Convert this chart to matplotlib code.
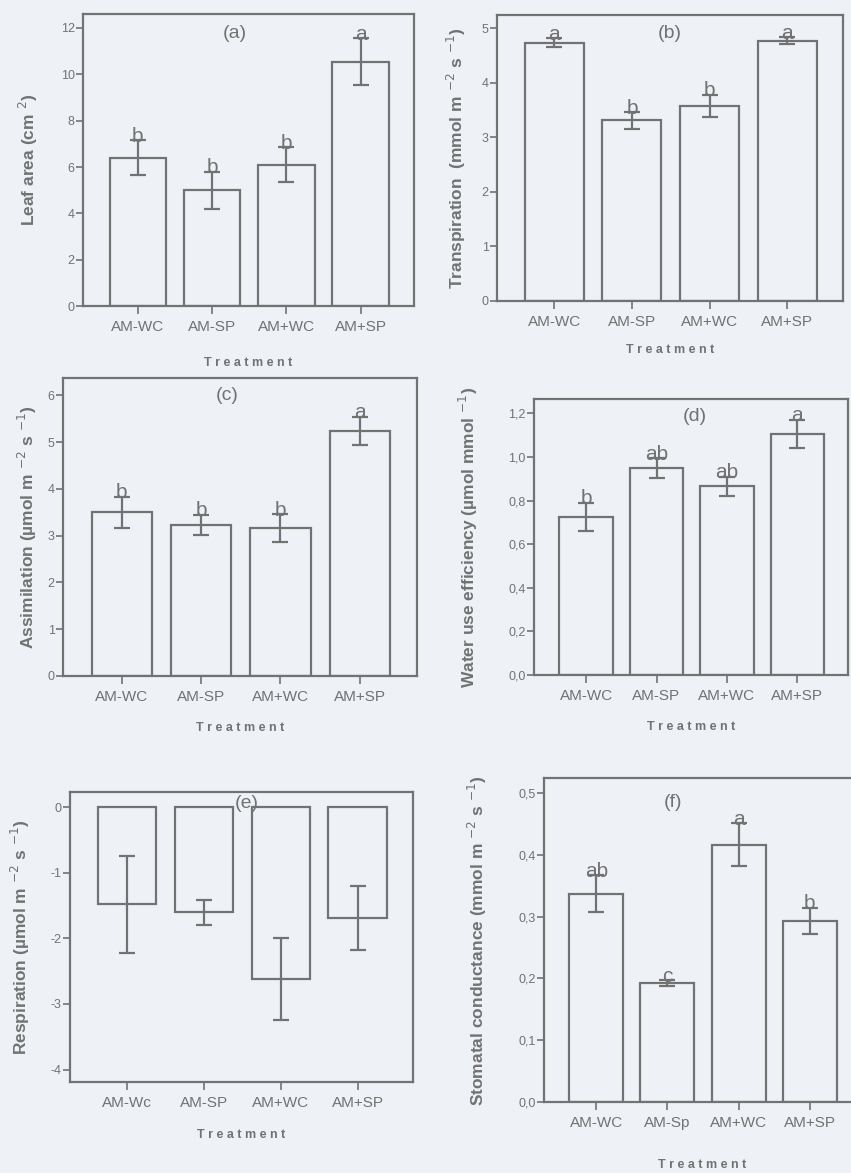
import matplotlib.pyplot as plt
import numpy as np

plt.rcParams['font.family'] = ['Liberation Sans', 'DejaVu Sans']

GREY = '#727272'
BG = '#eef1f6'

# values
leaf_labels = ['AM-WC', 'AM-SP', 'AM+WC', 'AM+SP']
leaf_mean = [6.4, 5.0, 6.1, 10.55]
leaf_err = [0.75, 0.8, 0.75, 1.0]
leaf_letters = ['b', 'b', 'b', 'a']

trans_labels = ['AM-WC', 'AM-SP', 'AM+WC', 'AM+SP']
trans_mean = [4.73, 3.31, 3.58, 4.77]
trans_err = [0.08, 0.15, 0.2, 0.06]
trans_letters = ['a', 'b', 'b', 'a']

assim_labels = ['AM-WC', 'AM-SP', 'AM+WC', 'AM+SP']
assim_mean = [3.5, 3.23, 3.16, 5.24]
assim_err = [0.33, 0.22, 0.3, 0.3]
assim_letters = ['b', 'b', 'b', 'a']

wue_labels = ['AM-WC', 'AM-SP', 'AM+WC', 'AM+SP']
wue_mean = [0.725, 0.95, 0.865, 1.105]
wue_err = [0.065, 0.045, 0.045, 0.065]
wue_letters = ['b', 'ab', 'ab', 'a']

resp_labels = ['AM-Wc', 'AM-SP', 'AM+WC', 'AM+SP']
resp_mean = [-1.48, -1.6, -2.62, -1.69]
resp_err = [0.74, 0.19, 0.63, 0.49]
resp_letters = ['', '', '', '']

stom_labels = ['AM-WC', 'AM-Sp', 'AM+WC', 'AM+SP']
stom_mean = [0.337, 0.192, 0.416, 0.293]
stom_err = [0.03, 0.005, 0.035, 0.021]
stom_letters = ['ab', 'c', 'a', 'b']

panels = [
    # rect, labels, mean, err, letters, ylabel, ylim, yticks, fmt, tag, tagpos, ylab_x, xlab_y
    ([0.0975, 0.739, 0.389, 0.249], leaf_labels, leaf_mean, leaf_err, leaf_letters,
     r'Leaf area (cm $^{2}$)', (0, 12.6), np.arange(0, 13, 2), '{:.0f}', '(a)', (0.46, 0.935), -0.166, -0.195),
    ([0.584, 0.7434, 0.4066, 0.2438], trans_labels, trans_mean, trans_err, trans_letters,
     r'Transpiration  (mmol m $^{-2}$ s $^{-1}$)', (0, 5.24), np.arange(0, 6, 1), '{:.0f}', '(b)', (0.5, 0.937), -0.116, -0.171),
    ([0.074, 0.4237, 0.416, 0.254], assim_labels, assim_mean, assim_err, assim_letters,
     r'Assimilation (µmol m $^{-2}$ s $^{-1}$)', (0, 6.37), np.arange(0, 7, 1), '{:.0f}', '(c)', (0.463, 0.943), -0.099, -0.174),
    ([0.6275, 0.4246, 0.369, 0.2353], wue_labels, wue_mean, wue_err, wue_letters,
     r'Water use efficiency (µmol mmol $^{-1}$)', (0, 1.266), np.arange(0, 1.3, 0.2), '{:.1f}', '(d)', (0.513, 0.935), -0.21, -0.188),
    ([0.0823, 0.0776, 0.403, 0.2472], resp_labels, resp_mean, resp_err, resp_letters,
     r'Respiration (µmol m $^{-2}$ s $^{-1}$)', (-4.19, 0.23), np.arange(-4, 1, 1), '{:.0f}', '(e)', (0.516, 0.962), -0.146, -0.183),
    ([0.639, 0.0605, 0.3725, 0.2762], stom_labels, stom_mean, stom_err, stom_letters,
     r'Stomatal conductance (mmol m $^{-2}$ s $^{-1}$)', (0, 0.524), np.arange(0, 0.51, 0.1), '{:.1f}', '(f)', (0.407, 0.923), -0.208, -0.194),
]

fig = plt.figure(figsize=(8.51, 11.73), dpi=100)
fig.patch.set_facecolor(BG)

for rect, labels, mean, err, letters, ylabel, ylim, yticks, fmt, tag, tagpos, ylab_x, xlab_y in panels:
    ax = fig.add_axes(rect)
    ax.set_facecolor('none')
    x = np.arange(len(labels))
    ax.bar(x, mean, width=0.76, facecolor='none', edgecolor=GREY, linewidth=1.6, zorder=2)
    ax.errorbar(x, mean, yerr=err, fmt='none', ecolor=GREY, elinewidth=1.6,
                capsize=6, capthick=1.6, zorder=3)
    for xi, m, e, let in zip(x, mean, err, letters):
        if let:
            ax.annotate(let, (xi, m + e), xytext=(0, -4), textcoords='offset points',
                        ha='center', va='bottom', fontsize=15, color=GREY, zorder=4)
    ax.text(tagpos[0], tagpos[1], tag, transform=ax.transAxes, ha='center', va='center',
            fontsize=14, color=GREY, zorder=1)
    ax.set_xlim(-0.74, 3.72)
    ax.set_ylim(*ylim)
    ax.set_yticks(yticks)
    ax.set_yticklabels([fmt.format(v).replace('.', ',') for v in yticks])
    ax.set_xticks(x)
    ax.set_xticklabels(labels)
    for s in ax.spines.values():
        s.set_color(GREY)
        s.set_linewidth(1.6)
    ax.tick_params(axis='y', direction='out', length=5, width=1.2, color=GREY,
                   labelsize=9, labelcolor=GREY, pad=1)
    ax.tick_params(axis='x', direction='out', length=6, width=1.2, color=GREY,
                   labelsize=11, labelcolor=GREY, pad=4)
    ax.set_ylabel(ylabel, fontsize=12.5, fontweight='bold', color=GREY, va='center')
    ax.yaxis.set_label_coords(ylab_x, 0.5)
    ax.set_xlabel('T r e a t m e n t', fontsize=9, fontweight='bold', color=GREY, va='center')
    ax.xaxis.set_label_coords(0.5, xlab_y)

fig.savefig('out.png', dpi=100, facecolor=BG)
